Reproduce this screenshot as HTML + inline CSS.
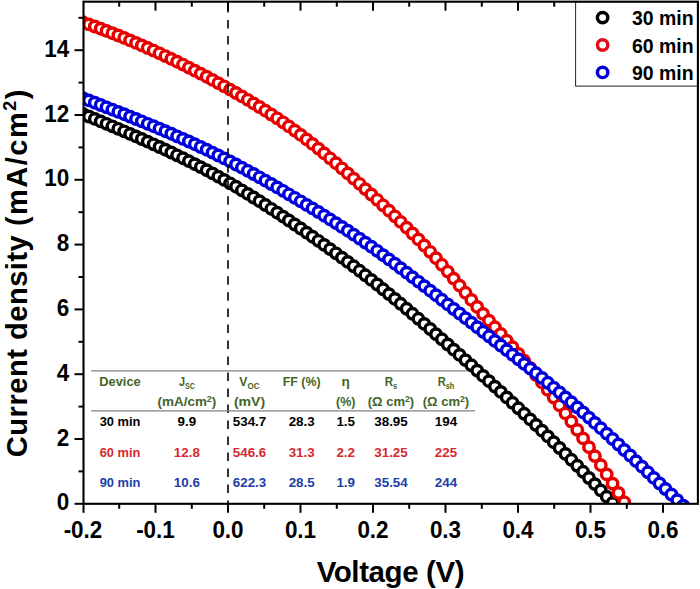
<!DOCTYPE html>
<html lang="en"><head><meta charset="utf-8"><title>J-V curves</title>
<style>html,body{margin:0;padding:0;background:#fff}body{width:700px;height:589px;overflow:hidden}svg{display:block}text{font-family:"Liberation Sans",Arial,sans-serif;font-weight:bold}</style></head><body>
<svg width="700" height="589" viewBox="0 0 700 589">
<rect width="700" height="589" fill="#fff"/>
<defs><clipPath id="c"><rect x="83.5" y="1.7" width="614.4" height="502.1"/></clipPath></defs>
<g clip-path="url(#c)">
<g fill="#fff" stroke="#000000" stroke-width="3.45">
<circle cx="83.0" cy="114.0" r="5.2"/>
<circle cx="88.9" cy="116.5" r="5.2"/>
<circle cx="94.8" cy="118.9" r="5.2"/>
<circle cx="100.7" cy="121.4" r="5.2"/>
<circle cx="106.5" cy="123.8" r="5.2"/>
<circle cx="112.4" cy="126.3" r="5.2"/>
<circle cx="118.3" cy="128.8" r="5.2"/>
<circle cx="124.2" cy="131.3" r="5.2"/>
<circle cx="130.1" cy="133.9" r="5.2"/>
<circle cx="136.0" cy="136.4" r="5.2"/>
<circle cx="141.8" cy="139.0" r="5.2"/>
<circle cx="147.7" cy="141.6" r="5.2"/>
<circle cx="153.6" cy="144.3" r="5.2"/>
<circle cx="159.5" cy="147.0" r="5.2"/>
<circle cx="165.4" cy="149.7" r="5.2"/>
<circle cx="171.3" cy="152.5" r="5.2"/>
<circle cx="177.1" cy="155.3" r="5.2"/>
<circle cx="183.0" cy="158.2" r="5.2"/>
<circle cx="188.9" cy="161.1" r="5.2"/>
<circle cx="194.8" cy="164.1" r="5.2"/>
<circle cx="200.7" cy="167.1" r="5.2"/>
<circle cx="206.6" cy="170.2" r="5.2"/>
<circle cx="212.5" cy="173.4" r="5.2"/>
<circle cx="218.3" cy="176.6" r="5.2"/>
<circle cx="224.2" cy="179.9" r="5.2"/>
<circle cx="230.1" cy="183.3" r="5.2"/>
<circle cx="236.0" cy="186.7" r="5.2"/>
<circle cx="241.9" cy="190.3" r="5.2"/>
<circle cx="247.8" cy="193.9" r="5.2"/>
<circle cx="253.6" cy="197.5" r="5.2"/>
<circle cx="259.5" cy="201.2" r="5.2"/>
<circle cx="265.4" cy="205.0" r="5.2"/>
<circle cx="271.3" cy="208.8" r="5.2"/>
<circle cx="277.2" cy="212.7" r="5.2"/>
<circle cx="283.1" cy="216.6" r="5.2"/>
<circle cx="288.9" cy="220.5" r="5.2"/>
<circle cx="294.8" cy="224.5" r="5.2"/>
<circle cx="300.7" cy="228.5" r="5.2"/>
<circle cx="306.6" cy="232.6" r="5.2"/>
<circle cx="312.5" cy="236.7" r="5.2"/>
<circle cx="318.4" cy="240.8" r="5.2"/>
<circle cx="324.2" cy="244.9" r="5.2"/>
<circle cx="330.1" cy="249.1" r="5.2"/>
<circle cx="336.0" cy="253.3" r="5.2"/>
<circle cx="341.9" cy="257.6" r="5.2"/>
<circle cx="347.8" cy="261.9" r="5.2"/>
<circle cx="353.7" cy="266.3" r="5.2"/>
<circle cx="359.6" cy="270.8" r="5.2"/>
<circle cx="365.4" cy="275.3" r="5.2"/>
<circle cx="371.3" cy="279.9" r="5.2"/>
<circle cx="377.2" cy="284.5" r="5.2"/>
<circle cx="383.1" cy="289.3" r="5.2"/>
<circle cx="389.0" cy="294.1" r="5.2"/>
<circle cx="394.9" cy="298.9" r="5.2"/>
<circle cx="400.7" cy="303.8" r="5.2"/>
<circle cx="406.6" cy="308.8" r="5.2"/>
<circle cx="412.5" cy="313.8" r="5.2"/>
<circle cx="418.4" cy="318.8" r="5.2"/>
<circle cx="424.3" cy="323.9" r="5.2"/>
<circle cx="430.2" cy="329.0" r="5.2"/>
<circle cx="436.0" cy="334.2" r="5.2"/>
<circle cx="441.9" cy="339.3" r="5.2"/>
<circle cx="447.8" cy="344.5" r="5.2"/>
<circle cx="453.7" cy="349.7" r="5.2"/>
<circle cx="459.6" cy="354.9" r="5.2"/>
<circle cx="465.5" cy="360.1" r="5.2"/>
<circle cx="471.4" cy="365.3" r="5.2"/>
<circle cx="477.2" cy="370.6" r="5.2"/>
<circle cx="483.1" cy="375.9" r="5.2"/>
<circle cx="489.0" cy="381.2" r="5.2"/>
<circle cx="494.9" cy="386.6" r="5.2"/>
<circle cx="500.8" cy="391.9" r="5.2"/>
<circle cx="506.7" cy="397.4" r="5.2"/>
<circle cx="512.5" cy="402.8" r="5.2"/>
<circle cx="518.4" cy="408.3" r="5.2"/>
<circle cx="524.3" cy="413.8" r="5.2"/>
<circle cx="530.2" cy="419.4" r="5.2"/>
<circle cx="536.1" cy="425.0" r="5.2"/>
<circle cx="542.0" cy="430.7" r="5.2"/>
<circle cx="547.8" cy="436.4" r="5.2"/>
<circle cx="553.7" cy="442.2" r="5.2"/>
<circle cx="559.6" cy="448.0" r="5.2"/>
<circle cx="565.5" cy="453.9" r="5.2"/>
<circle cx="571.4" cy="459.8" r="5.2"/>
<circle cx="577.3" cy="465.8" r="5.2"/>
<circle cx="583.1" cy="471.8" r="5.2"/>
<circle cx="589.0" cy="478.0" r="5.2"/>
<circle cx="594.9" cy="484.1" r="5.2"/>
<circle cx="600.8" cy="490.4" r="5.2"/>
<circle cx="606.7" cy="496.7" r="5.2"/>
<circle cx="612.6" cy="503.0" r="5.2"/>
<circle cx="618.5" cy="509.3" r="5.2"/>
<circle cx="624.3" cy="515.6" r="5.2"/>
</g>
<g fill="#fff" stroke="#e60000" stroke-width="3.45">
<circle cx="83.0" cy="22.3" r="5.2"/>
<circle cx="88.9" cy="24.4" r="5.2"/>
<circle cx="94.8" cy="26.5" r="5.2"/>
<circle cx="100.7" cy="28.7" r="5.2"/>
<circle cx="106.5" cy="30.9" r="5.2"/>
<circle cx="112.4" cy="33.2" r="5.2"/>
<circle cx="118.3" cy="35.5" r="5.2"/>
<circle cx="124.2" cy="37.9" r="5.2"/>
<circle cx="130.1" cy="40.4" r="5.2"/>
<circle cx="136.0" cy="42.9" r="5.2"/>
<circle cx="141.8" cy="45.4" r="5.2"/>
<circle cx="147.7" cy="48.0" r="5.2"/>
<circle cx="153.6" cy="50.6" r="5.2"/>
<circle cx="159.5" cy="53.3" r="5.2"/>
<circle cx="165.4" cy="56.1" r="5.2"/>
<circle cx="171.3" cy="58.9" r="5.2"/>
<circle cx="177.1" cy="61.7" r="5.2"/>
<circle cx="183.0" cy="64.6" r="5.2"/>
<circle cx="188.9" cy="67.6" r="5.2"/>
<circle cx="194.8" cy="70.6" r="5.2"/>
<circle cx="200.7" cy="73.6" r="5.2"/>
<circle cx="206.6" cy="76.7" r="5.2"/>
<circle cx="212.5" cy="79.9" r="5.2"/>
<circle cx="218.3" cy="83.1" r="5.2"/>
<circle cx="224.2" cy="86.3" r="5.2"/>
<circle cx="230.1" cy="89.6" r="5.2"/>
<circle cx="236.0" cy="93.0" r="5.2"/>
<circle cx="241.9" cy="96.4" r="5.2"/>
<circle cx="247.8" cy="99.8" r="5.2"/>
<circle cx="253.6" cy="103.4" r="5.2"/>
<circle cx="259.5" cy="107.0" r="5.2"/>
<circle cx="265.4" cy="110.7" r="5.2"/>
<circle cx="271.3" cy="114.5" r="5.2"/>
<circle cx="277.2" cy="118.3" r="5.2"/>
<circle cx="283.1" cy="122.3" r="5.2"/>
<circle cx="288.9" cy="126.4" r="5.2"/>
<circle cx="294.8" cy="130.6" r="5.2"/>
<circle cx="300.7" cy="134.9" r="5.2"/>
<circle cx="306.6" cy="139.4" r="5.2"/>
<circle cx="312.5" cy="143.9" r="5.2"/>
<circle cx="318.4" cy="148.6" r="5.2"/>
<circle cx="324.2" cy="153.4" r="5.2"/>
<circle cx="330.1" cy="158.3" r="5.2"/>
<circle cx="336.0" cy="163.2" r="5.2"/>
<circle cx="341.9" cy="168.3" r="5.2"/>
<circle cx="347.8" cy="173.4" r="5.2"/>
<circle cx="353.7" cy="178.6" r="5.2"/>
<circle cx="359.6" cy="183.8" r="5.2"/>
<circle cx="365.4" cy="189.1" r="5.2"/>
<circle cx="371.3" cy="194.5" r="5.2"/>
<circle cx="377.2" cy="199.8" r="5.2"/>
<circle cx="383.1" cy="205.3" r="5.2"/>
<circle cx="389.0" cy="210.7" r="5.2"/>
<circle cx="394.9" cy="216.3" r="5.2"/>
<circle cx="400.7" cy="221.9" r="5.2"/>
<circle cx="406.6" cy="227.6" r="5.2"/>
<circle cx="412.5" cy="233.5" r="5.2"/>
<circle cx="418.4" cy="239.4" r="5.2"/>
<circle cx="424.3" cy="245.5" r="5.2"/>
<circle cx="430.2" cy="251.8" r="5.2"/>
<circle cx="436.0" cy="258.2" r="5.2"/>
<circle cx="441.9" cy="264.8" r="5.2"/>
<circle cx="447.8" cy="271.6" r="5.2"/>
<circle cx="453.7" cy="278.6" r="5.2"/>
<circle cx="459.6" cy="285.6" r="5.2"/>
<circle cx="465.5" cy="292.8" r="5.2"/>
<circle cx="471.4" cy="299.9" r="5.2"/>
<circle cx="477.2" cy="306.9" r="5.2"/>
<circle cx="483.1" cy="313.9" r="5.2"/>
<circle cx="489.0" cy="320.7" r="5.2"/>
<circle cx="494.9" cy="327.3" r="5.2"/>
<circle cx="500.8" cy="334.0" r="5.2"/>
<circle cx="506.7" cy="340.6" r="5.2"/>
<circle cx="512.5" cy="347.2" r="5.2"/>
<circle cx="518.4" cy="354.0" r="5.2"/>
<circle cx="524.3" cy="360.8" r="5.2"/>
<circle cx="530.2" cy="367.9" r="5.2"/>
<circle cx="536.1" cy="375.0" r="5.2"/>
<circle cx="542.0" cy="382.4" r="5.2"/>
<circle cx="547.8" cy="389.9" r="5.2"/>
<circle cx="553.7" cy="397.5" r="5.2"/>
<circle cx="559.6" cy="405.4" r="5.2"/>
<circle cx="565.5" cy="413.4" r="5.2"/>
<circle cx="571.4" cy="421.5" r="5.2"/>
<circle cx="577.3" cy="429.9" r="5.2"/>
<circle cx="583.1" cy="438.4" r="5.2"/>
<circle cx="589.0" cy="447.2" r="5.2"/>
<circle cx="594.9" cy="456.1" r="5.2"/>
<circle cx="600.8" cy="465.2" r="5.2"/>
<circle cx="606.7" cy="474.4" r="5.2"/>
<circle cx="612.6" cy="483.6" r="5.2"/>
<circle cx="618.5" cy="493.0" r="5.2"/>
<circle cx="624.3" cy="502.3" r="5.2"/>
<circle cx="630.2" cy="511.6" r="5.2"/>
</g>
<g fill="#fff" stroke="#0000dc" stroke-width="3.45">
<circle cx="83.0" cy="98.2" r="5.2"/>
<circle cx="88.9" cy="100.4" r="5.2"/>
<circle cx="94.8" cy="102.7" r="5.2"/>
<circle cx="100.7" cy="105.0" r="5.2"/>
<circle cx="106.5" cy="107.3" r="5.2"/>
<circle cx="112.4" cy="109.6" r="5.2"/>
<circle cx="118.3" cy="111.9" r="5.2"/>
<circle cx="124.2" cy="114.2" r="5.2"/>
<circle cx="130.1" cy="116.6" r="5.2"/>
<circle cx="136.0" cy="119.0" r="5.2"/>
<circle cx="141.8" cy="121.3" r="5.2"/>
<circle cx="147.7" cy="123.8" r="5.2"/>
<circle cx="153.6" cy="126.2" r="5.2"/>
<circle cx="159.5" cy="128.7" r="5.2"/>
<circle cx="165.4" cy="131.2" r="5.2"/>
<circle cx="171.3" cy="133.7" r="5.2"/>
<circle cx="177.1" cy="136.3" r="5.2"/>
<circle cx="183.0" cy="138.9" r="5.2"/>
<circle cx="188.9" cy="141.5" r="5.2"/>
<circle cx="194.8" cy="144.2" r="5.2"/>
<circle cx="200.7" cy="147.0" r="5.2"/>
<circle cx="206.6" cy="149.7" r="5.2"/>
<circle cx="212.5" cy="152.6" r="5.2"/>
<circle cx="218.3" cy="155.5" r="5.2"/>
<circle cx="224.2" cy="158.4" r="5.2"/>
<circle cx="230.1" cy="161.4" r="5.2"/>
<circle cx="236.0" cy="164.5" r="5.2"/>
<circle cx="241.9" cy="167.6" r="5.2"/>
<circle cx="247.8" cy="170.8" r="5.2"/>
<circle cx="253.6" cy="174.0" r="5.2"/>
<circle cx="259.5" cy="177.3" r="5.2"/>
<circle cx="265.4" cy="180.6" r="5.2"/>
<circle cx="271.3" cy="184.0" r="5.2"/>
<circle cx="277.2" cy="187.4" r="5.2"/>
<circle cx="283.1" cy="190.8" r="5.2"/>
<circle cx="288.9" cy="194.3" r="5.2"/>
<circle cx="294.8" cy="197.8" r="5.2"/>
<circle cx="300.7" cy="201.3" r="5.2"/>
<circle cx="306.6" cy="204.9" r="5.2"/>
<circle cx="312.5" cy="208.4" r="5.2"/>
<circle cx="318.4" cy="212.0" r="5.2"/>
<circle cx="324.2" cy="215.7" r="5.2"/>
<circle cx="330.1" cy="219.4" r="5.2"/>
<circle cx="336.0" cy="223.1" r="5.2"/>
<circle cx="341.9" cy="226.9" r="5.2"/>
<circle cx="347.8" cy="230.7" r="5.2"/>
<circle cx="353.7" cy="234.6" r="5.2"/>
<circle cx="359.6" cy="238.6" r="5.2"/>
<circle cx="365.4" cy="242.6" r="5.2"/>
<circle cx="371.3" cy="246.7" r="5.2"/>
<circle cx="377.2" cy="250.8" r="5.2"/>
<circle cx="383.1" cy="255.1" r="5.2"/>
<circle cx="389.0" cy="259.4" r="5.2"/>
<circle cx="394.9" cy="263.7" r="5.2"/>
<circle cx="400.7" cy="268.1" r="5.2"/>
<circle cx="406.6" cy="272.6" r="5.2"/>
<circle cx="412.5" cy="277.1" r="5.2"/>
<circle cx="418.4" cy="281.6" r="5.2"/>
<circle cx="424.3" cy="286.1" r="5.2"/>
<circle cx="430.2" cy="290.7" r="5.2"/>
<circle cx="436.0" cy="295.2" r="5.2"/>
<circle cx="441.9" cy="299.8" r="5.2"/>
<circle cx="447.8" cy="304.4" r="5.2"/>
<circle cx="453.7" cy="309.0" r="5.2"/>
<circle cx="459.6" cy="313.5" r="5.2"/>
<circle cx="465.5" cy="318.1" r="5.2"/>
<circle cx="471.4" cy="322.6" r="5.2"/>
<circle cx="477.2" cy="327.2" r="5.2"/>
<circle cx="483.1" cy="331.8" r="5.2"/>
<circle cx="489.0" cy="336.3" r="5.2"/>
<circle cx="494.9" cy="340.9" r="5.2"/>
<circle cx="500.8" cy="345.5" r="5.2"/>
<circle cx="506.7" cy="350.1" r="5.2"/>
<circle cx="512.5" cy="354.7" r="5.2"/>
<circle cx="518.4" cy="359.3" r="5.2"/>
<circle cx="524.3" cy="363.9" r="5.2"/>
<circle cx="530.2" cy="368.6" r="5.2"/>
<circle cx="536.1" cy="373.3" r="5.2"/>
<circle cx="542.0" cy="378.0" r="5.2"/>
<circle cx="547.8" cy="382.8" r="5.2"/>
<circle cx="553.7" cy="387.6" r="5.2"/>
<circle cx="559.6" cy="392.5" r="5.2"/>
<circle cx="565.5" cy="397.4" r="5.2"/>
<circle cx="571.4" cy="402.3" r="5.2"/>
<circle cx="577.3" cy="407.4" r="5.2"/>
<circle cx="583.1" cy="412.4" r="5.2"/>
<circle cx="589.0" cy="417.6" r="5.2"/>
<circle cx="594.9" cy="422.9" r="5.2"/>
<circle cx="600.8" cy="428.2" r="5.2"/>
<circle cx="606.7" cy="433.6" r="5.2"/>
<circle cx="612.6" cy="439.0" r="5.2"/>
<circle cx="618.5" cy="444.5" r="5.2"/>
<circle cx="624.3" cy="450.0" r="5.2"/>
<circle cx="630.2" cy="455.5" r="5.2"/>
<circle cx="636.1" cy="461.1" r="5.2"/>
<circle cx="642.0" cy="466.7" r="5.2"/>
<circle cx="647.9" cy="472.3" r="5.2"/>
<circle cx="653.8" cy="477.9" r="5.2"/>
<circle cx="659.6" cy="483.5" r="5.2"/>
<circle cx="665.5" cy="489.0" r="5.2"/>
<circle cx="671.4" cy="494.5" r="5.2"/>
<circle cx="677.3" cy="500.1" r="5.2"/>
<circle cx="683.2" cy="505.6" r="5.2"/>
<circle cx="689.1" cy="511.2" r="5.2"/>
<circle cx="694.9" cy="516.8" r="5.2"/>
</g>
</g>
<line x1="228.0" y1="4" x2="228.0" y2="503.8" stroke="#000" stroke-width="1.6" stroke-dasharray="8.5 7.52"/>
<g stroke="#000" stroke-width="2">
<line x1="119.2" y1="503.8" x2="119.2" y2="508.8"/>
<line x1="119.2" y1="1.7" x2="119.2" y2="6.7"/>
<line x1="155.5" y1="503.8" x2="155.5" y2="512.8"/>
<line x1="155.5" y1="1.7" x2="155.5" y2="10.7"/>
<line x1="191.8" y1="503.8" x2="191.8" y2="508.8"/>
<line x1="191.8" y1="1.7" x2="191.8" y2="6.7"/>
<line x1="228.0" y1="503.8" x2="228.0" y2="512.8"/>
<line x1="228.0" y1="1.7" x2="228.0" y2="10.7"/>
<line x1="264.2" y1="503.8" x2="264.2" y2="508.8"/>
<line x1="264.2" y1="1.7" x2="264.2" y2="6.7"/>
<line x1="300.5" y1="503.8" x2="300.5" y2="512.8"/>
<line x1="300.5" y1="1.7" x2="300.5" y2="10.7"/>
<line x1="336.8" y1="503.8" x2="336.8" y2="508.8"/>
<line x1="336.8" y1="1.7" x2="336.8" y2="6.7"/>
<line x1="373.0" y1="503.8" x2="373.0" y2="512.8"/>
<line x1="373.0" y1="1.7" x2="373.0" y2="10.7"/>
<line x1="409.2" y1="503.8" x2="409.2" y2="508.8"/>
<line x1="409.2" y1="1.7" x2="409.2" y2="6.7"/>
<line x1="445.5" y1="503.8" x2="445.5" y2="512.8"/>
<line x1="445.5" y1="1.7" x2="445.5" y2="10.7"/>
<line x1="481.8" y1="503.8" x2="481.8" y2="508.8"/>
<line x1="481.8" y1="1.7" x2="481.8" y2="6.7"/>
<line x1="518.0" y1="503.8" x2="518.0" y2="512.8"/>
<line x1="518.0" y1="1.7" x2="518.0" y2="10.7"/>
<line x1="554.2" y1="503.8" x2="554.2" y2="508.8"/>
<line x1="554.2" y1="1.7" x2="554.2" y2="6.7"/>
<line x1="590.5" y1="503.8" x2="590.5" y2="512.8"/>
<line x1="590.5" y1="1.7" x2="590.5" y2="10.7"/>
<line x1="626.8" y1="503.8" x2="626.8" y2="508.8"/>
<line x1="626.8" y1="1.7" x2="626.8" y2="6.7"/>
<line x1="663.0" y1="503.8" x2="663.0" y2="512.8"/>
<line x1="663.0" y1="1.7" x2="663.0" y2="10.7"/>
<line x1="83.5" y1="503.8" x2="83.5" y2="512.8"/>
<line x1="83.5" y1="503.8" x2="74.5" y2="503.8"/>
<line x1="83.5" y1="471.4" x2="78.5" y2="471.4"/>
<line x1="83.5" y1="439.0" x2="74.5" y2="439.0"/>
<line x1="83.5" y1="406.6" x2="78.5" y2="406.6"/>
<line x1="83.5" y1="374.2" x2="74.5" y2="374.2"/>
<line x1="83.5" y1="341.8" x2="78.5" y2="341.8"/>
<line x1="83.5" y1="309.4" x2="74.5" y2="309.4"/>
<line x1="83.5" y1="277.0" x2="78.5" y2="277.0"/>
<line x1="83.5" y1="244.6" x2="74.5" y2="244.6"/>
<line x1="83.5" y1="212.2" x2="78.5" y2="212.2"/>
<line x1="83.5" y1="179.8" x2="74.5" y2="179.8"/>
<line x1="83.5" y1="147.4" x2="78.5" y2="147.4"/>
<line x1="83.5" y1="115.0" x2="74.5" y2="115.0"/>
<line x1="83.5" y1="82.6" x2="78.5" y2="82.6"/>
<line x1="83.5" y1="50.2" x2="74.5" y2="50.2"/>
<line x1="83.5" y1="17.8" x2="78.5" y2="17.8"/>
</g>
<g font-size="24.3" fill="#000">
<text transform="translate(83.0 537.9) scale(0.925 1)" text-anchor="middle">-0.2</text>
<text transform="translate(155.5 537.9) scale(0.925 1)" text-anchor="middle">-0.1</text>
<text transform="translate(228.0 537.9) scale(0.925 1)" text-anchor="middle">0.0</text>
<text transform="translate(300.5 537.9) scale(0.925 1)" text-anchor="middle">0.1</text>
<text transform="translate(373.0 537.9) scale(0.925 1)" text-anchor="middle">0.2</text>
<text transform="translate(445.5 537.9) scale(0.925 1)" text-anchor="middle">0.3</text>
<text transform="translate(518.0 537.9) scale(0.925 1)" text-anchor="middle">0.4</text>
<text transform="translate(590.5 537.9) scale(0.925 1)" text-anchor="middle">0.5</text>
<text transform="translate(663.0 537.9) scale(0.925 1)" text-anchor="middle">0.6</text>
<text transform="translate(69.2 510.4) scale(0.925 1)" text-anchor="end">0</text>
<text transform="translate(69.2 445.6) scale(0.925 1)" text-anchor="end">2</text>
<text transform="translate(69.2 380.8) scale(0.925 1)" text-anchor="end">4</text>
<text transform="translate(69.2 316.0) scale(0.925 1)" text-anchor="end">6</text>
<text transform="translate(69.2 251.2) scale(0.925 1)" text-anchor="end">8</text>
<text transform="translate(69.2 186.4) scale(0.925 1)" text-anchor="end">10</text>
<text transform="translate(69.2 121.6) scale(0.925 1)" text-anchor="end">12</text>
<text transform="translate(69.2 56.8) scale(0.925 1)" text-anchor="end">14</text>
</g>
<text x="390.4" y="581.8" font-size="29.5" text-anchor="middle" letter-spacing="-0.4">Voltage (V)</text>
<text transform="translate(26.9 272.6) rotate(-90)" font-size="29" text-anchor="middle"><tspan letter-spacing="0.54">Current density </tspan><tspan letter-spacing="1.5">(mA/cm<tspan font-size="18" dy="-10.5">2</tspan><tspan dy="10.5">)</tspan></tspan></text>
<rect x="575.6" y="1.7" width="122.3" height="84.4" fill="#fff" stroke="#222" stroke-width="1"/>
<circle cx="602.6" cy="17.6" r="5.2" fill="#fff" stroke="#000000" stroke-width="3.45"/>
<text x="632" y="25.1" font-size="21" textLength="61.6" lengthAdjust="spacingAndGlyphs">30 min</text>
<circle cx="602.6" cy="45.0" r="5.2" fill="#fff" stroke="#e00c1c" stroke-width="3.45"/>
<text x="632" y="52.5" font-size="21" textLength="61.6" lengthAdjust="spacingAndGlyphs">60 min</text>
<circle cx="602.6" cy="72.4" r="5.2" fill="#fff" stroke="#0000d4" stroke-width="3.45"/>
<text x="632" y="79.9" font-size="21" textLength="61.6" lengthAdjust="spacingAndGlyphs">90 min</text>
<rect x="83.5" y="1.7" width="614.4" height="502.1" fill="none" stroke="#000" stroke-width="2.1"/>
<line x1="82.5" y1="0.3" x2="698.9" y2="0.3" stroke="#9a9a9a" stroke-width="0.8"/>
<line x1="91.3" y1="370.9" x2="467.5" y2="370.9" stroke="#808080" stroke-width="1.2"/>
<line x1="91.3" y1="410.9" x2="475" y2="410.9" stroke="#808080" stroke-width="1.2"/>
<g font-size="13.6" fill="#456428" text-anchor="middle">
<text transform="translate(120 386.3) scale(0.945 1)">Device</text>
<text transform="translate(186.9 386.3) scale(0.8 1)">J<tspan font-size="9" dy="2.5">SC</tspan></text>
<text transform="translate(249.5 386.3) scale(0.9 1)">V<tspan font-size="9" dy="2.5">OC</tspan></text>
<text transform="translate(301.7 386.3) scale(0.91 1)">FF (%)</text>
<text transform="translate(345.7 386.3) scale(1.0 1)">η</text>
<text transform="translate(391 386.3) scale(0.85 1)">R<tspan font-size="9" dy="2.5">s</tspan></text>
<text transform="translate(446 386.3) scale(0.82 1)">R<tspan font-size="9" dy="2.5">sh</tspan></text>
<text transform="translate(186.9 405.7) scale(0.99 1)">(mA/cm<tspan font-size="9" dy="-4">2</tspan><tspan dy="4">)</tspan></text>
<text transform="translate(249.5 405.7) scale(1.03 1)">(mV)</text>
<text transform="translate(345.7 405.7) scale(0.92 1)">(%)</text>
<text transform="translate(391 405.7) scale(0.96 1)">(Ω cm<tspan font-size="9" dy="-4">2</tspan><tspan dy="4">)</tspan></text>
<text transform="translate(446 405.7) scale(0.96 1)">(Ω cm<tspan font-size="9" dy="-4">2</tspan><tspan dy="4">)</tspan></text>
</g>
<g font-size="13.6" fill="#000000" text-anchor="middle">
<text transform="translate(120 425.7) scale(0.945 1)">30 min</text>
<text transform="translate(186.9 425.7) scale(0.985 1)">9.9</text>
<text transform="translate(249.5 425.7) scale(0.985 1)">534.7</text>
<text transform="translate(301.7 425.7) scale(0.985 1)">28.3</text>
<text transform="translate(345.7 425.7) scale(0.985 1)">1.5</text>
<text transform="translate(391 425.7) scale(0.985 1)">38.95</text>
<text transform="translate(446 425.7) scale(0.985 1)">194</text>
</g>
<g font-size="13.6" fill="#d42a30" text-anchor="middle">
<text transform="translate(120 456.6) scale(0.945 1)">60 min</text>
<text transform="translate(186.9 456.6) scale(0.985 1)">12.8</text>
<text transform="translate(249.5 456.6) scale(0.985 1)">546.6</text>
<text transform="translate(301.7 456.6) scale(0.985 1)">31.3</text>
<text transform="translate(345.7 456.6) scale(0.985 1)">2.2</text>
<text transform="translate(391 456.6) scale(0.985 1)">31.25</text>
<text transform="translate(446 456.6) scale(0.985 1)">225</text>
</g>
<g font-size="13.6" fill="#2040a8" text-anchor="middle">
<text transform="translate(120 487.1) scale(0.945 1)">90 min</text>
<text transform="translate(186.9 487.1) scale(0.985 1)">10.6</text>
<text transform="translate(249.5 487.1) scale(0.985 1)">622.3</text>
<text transform="translate(301.7 487.1) scale(0.985 1)">28.5</text>
<text transform="translate(345.7 487.1) scale(0.985 1)">1.9</text>
<text transform="translate(391 487.1) scale(0.985 1)">35.54</text>
<text transform="translate(446 487.1) scale(0.985 1)">244</text>
</g>
</svg></body></html>
